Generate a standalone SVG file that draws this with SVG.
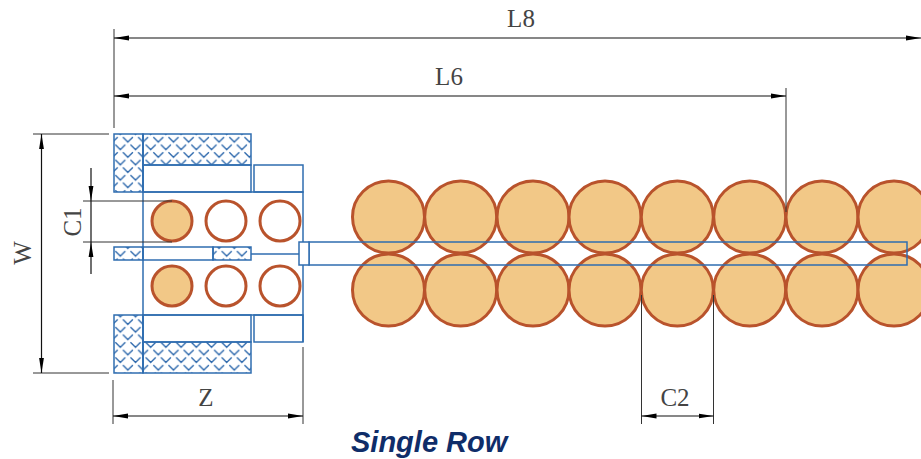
<svg xmlns="http://www.w3.org/2000/svg" width="921" height="459" viewBox="0 0 921 459">
<style>
.b{fill:none;stroke:#2f6db0;stroke-width:1.5}
.w{fill:#fff;stroke:#2f6db0;stroke-width:1.5}
.h{fill:url(#hatch);stroke:#2f6db0;stroke-width:1.5}
.big{fill:#f2c887;stroke:#b9532c;stroke-width:3}
.ro{fill:#fff;stroke:#b9532c;stroke-width:3}
.ex{fill:none;stroke:#333;stroke-width:1}
.dm{fill:none;stroke:#111;stroke-width:1.2;marker-start:url(#as);marker-end:url(#ae)}
.one{fill:none;stroke:#111;stroke-width:1.2}
.t{font-family:"Liberation Serif",serif;font-size:25px;fill:#444}
.title{font-family:"Liberation Sans",sans-serif;font-size:29px;font-weight:700;font-style:italic;fill:#0f2d69}
</style>
<defs>
<pattern id="hatch" width="15.2" height="15.2" patternUnits="userSpaceOnUse" x="114" y="134">
<path d="M8.900 3L13.900 8L18.900 3M-6.300 3L-1.300 8L3.700 3M1.300 10.600L6.300 15.600L11.300 10.600M1.300 -4.600L6.300 0.400L11.300 -4.600" fill="none" stroke="#2a66ab" stroke-width="1.400"/>
</pattern>
<marker id="ae" markerUnits="userSpaceOnUse" markerWidth="16" markerHeight="6" refX="15" refY="3" orient="auto"><path d="M0 0.600L15 3L0 5.400Z" fill="#000"/></marker>
<marker id="as" markerUnits="userSpaceOnUse" markerWidth="16" markerHeight="6" refX="1" refY="3" orient="auto"><path d="M16 0.600L1 3L16 5.400Z" fill="#000"/></marker>
</defs>

<g id="rollers">
<circle class="big" cx="388.500" cy="217" r="36"/><circle class="big" cx="460.700" cy="217" r="36"/><circle class="big" cx="533" cy="217" r="36"/><circle class="big" cx="605" cy="217" r="36"/><circle class="big" cx="677.300" cy="217" r="36"/><circle class="big" cx="749.700" cy="217" r="36"/><circle class="big" cx="822" cy="217" r="36"/><circle class="big" cx="894" cy="217" r="36"/>
<circle class="big" cx="388.500" cy="290" r="36"/><circle class="big" cx="460.700" cy="290" r="36"/><circle class="big" cx="533" cy="290" r="36"/><circle class="big" cx="605" cy="290" r="36"/><circle class="big" cx="677.300" cy="290" r="36"/><circle class="big" cx="749.700" cy="290" r="36"/><circle class="big" cx="822" cy="290" r="36"/><circle class="big" cx="894" cy="290" r="36"/>
</g>
<g id="cage-strip"><rect class="b" x="309" y="242" width="598" height="23"/></g>
<g id="block">
<path class="b" d="M143 192H303V342M143 315H303M143 134V373"/>
<rect class="h" x="114" y="134" width="29" height="58"/>
<rect class="h" x="143" y="134" width="108" height="31"/>
<rect class="b" x="143" y="165" width="108" height="27"/>
<rect class="b" x="254" y="165" width="49" height="27"/>
<rect class="h" x="114" y="315" width="29" height="58"/>
<rect class="h" x="143" y="342" width="108" height="31"/>
<rect class="b" x="143" y="315" width="108" height="27"/>
<rect class="b" x="254" y="315" width="49" height="27"/>
<rect class="h" x="114" y="247" width="29" height="13"/>
<rect class="b" x="143" y="247" width="70" height="13"/>
<rect class="h" x="213" y="247" width="38" height="13"/>
<path class="b" d="M251 254H299"/>
<rect class="w" x="299" y="242" width="10" height="23"/>
</g>
<g id="balls">
<circle class="big" cx="172" cy="221" r="20"/><circle class="ro" cx="226" cy="221" r="20"/><circle class="ro" cx="280" cy="221" r="20"/>
<circle class="big" cx="172" cy="286" r="20"/><circle class="ro" cx="226" cy="286" r="20"/><circle class="ro" cx="280" cy="286" r="20"/>
</g>
<g id="connectors">
<path class="ex" d="M114 29V128M786 88V212M33 134H109M33 373H109M83 201H172M83 242H172M113 380V424M303 347V424M641.500 295V424M713.500 295V424"/>
<path class="dm" d="M114 38H921"/>
<path class="dm" d="M114 96H786"/>
<path class="dm" d="M41.500 134V373"/>
<path class="dm" d="M113 416H303"/>
<path class="dm" d="M641.500 416H713.500"/>
<path class="one" d="M91 168V274"/>
<path d="M88.600 186L91 201L93.400 186ZM88.600 257L91 242L93.400 257Z" fill="#000"/>
</g>
<g id="labels">
<text class="t" x="521" y="27" text-anchor="middle">L8</text>
<text class="t" x="449" y="85" text-anchor="middle">L6</text>
<text class="t" x="206" y="406" text-anchor="middle">Z</text>
<text class="t" x="675" y="406" text-anchor="middle">C2</text>
<text class="t" text-anchor="middle" transform="translate(31 253) rotate(-90)">W</text>
<text class="t" text-anchor="middle" transform="translate(81 222) rotate(-90)">C1</text>
<text class="title" x="351" y="452">Single Row</text>
</g>
</svg>
